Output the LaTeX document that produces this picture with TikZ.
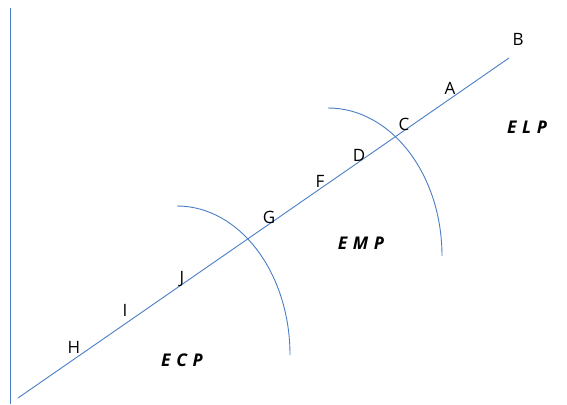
\documentclass[tikz,border=0pt]{standalone}
\usepackage{fontspec}
\setmainfont{Open Sans}
\definecolor{lineblue}{HTML}{4A7EC4}
\tikzset{
  ln/.style={draw=lineblue, line width=0.9pt},
  lbl/.style={inner sep=0pt, font=\fontsize{17}{19}\selectfont},
  zone/.style={inner sep=0pt, font=\fontsize{17.5}{19}\selectfont\bfseries\itshape}
}
\newcommand{\zgap}{\hspace{0.32em}}
\begin{document}
\begin{tikzpicture}[x=1pt,y=-1pt]
\useasboundingbox (0,0) rectangle (567,404);
% axis
\coordinate (v0) at (10,8);
\coordinate (v1) at (10,404);
\draw[ln] (v0) -- (v1);
% diagonal
\coordinate (d0) at (18,398);
\coordinate (d1) at (509,58);
\draw[ln] (d0) -- (d1);
% arcs
\coordinate (a1) at (177,206);
\coordinate (a2) at (328,108);
\draw[ln] (a1) arc[start angle=90, end angle=0, x radius=113pt, y radius=149pt];
\draw[ln] (a2) arc[start angle=90, end angle=0, x radius=114pt, y radius=148pt];
% point labels
\node[lbl] (B) at (518,39) {B};
\node[lbl] (A) at (450,88) {A};
\node[lbl] (C) at (404,124) {C};
\node[lbl] (D) at (359,155) {D};
\node[lbl] (F) at (320,181) {F};
\node[lbl] (G) at (269,217) {G};
\node[lbl] (J) at (182,279) {J};
\node[lbl] (I) at (125,310) {I};
\node[lbl] (H) at (74,347) {H};
% zone labels
\node[zone] (ELP) at (527,127) {E\zgap L\zgap P};
\node[zone] (EMP) at (361,243) {E\zgap M\zgap P};
\node[zone] (ECP) at (182,360) {E\zgap C\zgap P};
\end{tikzpicture}
\end{document}
